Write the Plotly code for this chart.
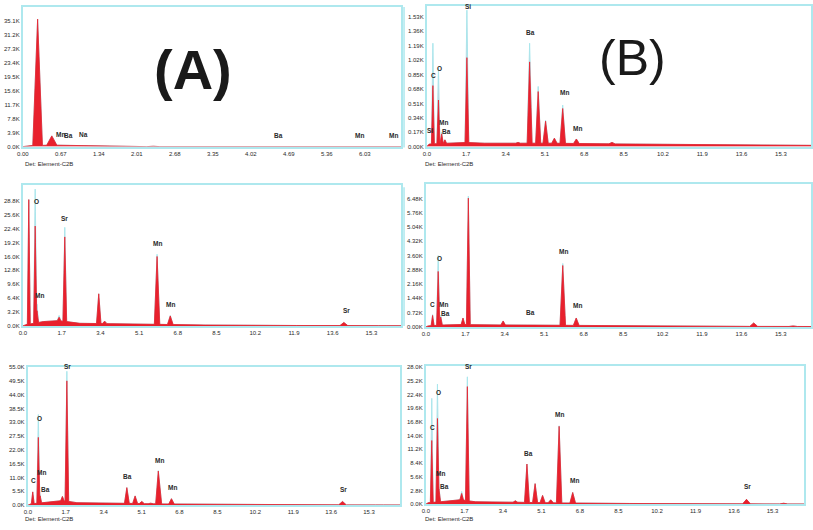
import numpy as np
import plotly.graph_objects as go

# ------------------------------------------------------------------ DATA
# energies in keV, counts in K (thousands)

# Panel A1 (top-left)
a1_peak_e = [0.26, 0.51, 1.05, 2.30]
a1_peak_red = [35.6, 3.0, 0.4, 0.1]
a1_peak_top = [35.6, 3.0, 0.4, 0.1]
a1_bg_e = [0.0, 0.12, 0.60, 1.00, 1.60, 1.75, 6.67]
a1_bg_c = [0.0, 0.30, 0.40, 0.25, 0.15, 0.0, 0.0]
a1_lbl = ["Mn", "Ba", "Na", "Ba", "Mn", "Mn"]
a1_lbl_e = [0.67, 0.80, 1.07, 4.50, 5.94, 6.53]
a1_lbl_c = [1.9, 1.6, 1.8, 1.6, 1.6, 1.6]
a1_xticks = [0.00, 0.67, 1.34, 2.01, 2.68, 3.35, 4.02, 4.69, 5.36, 6.03]
a1_xtick_text = ["0.00", "0.67", "1.34", "2.01", "2.68", "3.35", "4.02", "4.69", "5.36", "6.03"]
a1_yticks = [0.0, 3.9, 7.8, 11.7, 15.6, 19.5, 23.4, 27.3, 31.2, 35.1]
a1_ytick_text = ["0.0K", "3.9K", "7.8K", "11.7K", "15.6K", "19.5K", "23.4K", "27.3K", "31.2K", "35.1K"]

# Panel B1 (top-right)
b1_peak_e = [0.26, 0.50, 0.64, 0.78, 1.73, 3.94, 4.44, 4.81, 5.13, 5.51, 5.87, 6.46, 8.00]
b1_peak_red = [0.72, 0.55, 0.15, 0.08, 1.05, 0.05, 1.00, 0.65, 0.30, 0.10, 0.45, 0.09, 0.05]
b1_peak_top = [1.22, 0.93, 0.17, 0.08, 1.61, 0.05, 1.22, 0.71, 0.31, 0.10, 0.49, 0.09, 0.05]
b1_bg_e = [0.0, 0.1, 0.9, 1.5, 2.5, 3.5, 4.5, 5.5, 7.0, 9.0, 11.0, 13.0, 15.0, 16.6]
b1_bg_c = [0.0, 0.03, 0.04, 0.05, 0.04, 0.04, 0.04, 0.04, 0.035, 0.03, 0.025, 0.02, 0.02, 0.015]
b1_lbl = ["Si", "C", "O", "Mn", "Ba", "Si", "Ba", "Mn", "Mn"]
b1_lbl_e = [0.12, 0.30, 0.56, 0.70, 0.83, 1.76, 4.48, 5.93, 6.52]
b1_lbl_c = [0.12, 0.78, 0.86, 0.22, 0.11, 1.59, 1.28, 0.57, 0.15]
b1_xticks = [0.0, 1.7, 3.4, 5.1, 6.8, 8.5, 10.2, 11.9, 13.6, 15.3]
b1_xtick_text = ["0.0", "1.7", "3.4", "5.1", "6.8", "8.5", "10.2", "11.9", "13.6", "15.3"]
b1_yticks = [0.00, 0.17, 0.34, 0.51, 0.68, 0.85, 1.02, 1.19, 1.36, 1.53]
b1_ytick_text = ["0.00K", "0.17K", "0.34K", "0.51K", "0.68K", "0.85K", "1.02K", "1.19K", "1.36K", "1.53K"]

# Panel A2 (middle-left)
a2_peak_e = [0.26, 0.54, 0.62, 1.59, 1.84, 2.29, 3.33, 3.59, 4.46, 5.89, 6.47, 14.09, 15.80]
a2_peak_red = [29.1, 23.0, 3.5, 2.0, 20.5, 0.6, 7.4, 1.1, 0.5, 16.0, 2.3, 0.8, 0.1]
a2_peak_top = [29.1, 31.5, 5.0, 2.4, 22.7, 0.6, 7.4, 1.1, 0.5, 16.5, 2.4, 0.8, 0.1]
a2_bg_e = [0.0, 0.15, 0.9, 1.5, 2.5, 4.0, 6.0, 8.0, 12.0, 16.6]
a2_bg_c = [0.0, 0.3, 1.0, 1.2, 0.6, 0.5, 0.35, 0.2, 0.1, 0.05]
a2_lbl = ["O", "Mn", "Sr", "Mn", "Mn", "Sr"]
a2_lbl_e = [0.60, 0.72, 1.84, 5.92, 6.50, 14.20]
a2_lbl_c = [27.3, 5.7, 23.5, 17.8, 3.7, 2.3]
a2_xticks = b1_xticks
a2_xtick_text = b1_xtick_text
a2_yticks = [0.0, 3.2, 6.4, 9.6, 12.8, 16.0, 19.2, 22.4, 25.6, 28.8]
a2_ytick_text = ["0.0K", "3.2K", "6.4K", "9.6K", "12.8K", "16.0K", "19.2K", "22.4K", "25.6K", "28.8K"]

# Panel B2 (middle-right)
b2_peak_e = [0.29, 0.53, 0.64, 1.60, 1.83, 3.33, 4.47, 5.90, 6.48, 14.13, 15.83]
b2_peak_red = [0.58, 2.8, 0.5, 0.45, 6.5, 0.3, 0.10, 3.1, 0.45, 0.20, 0.05]
b2_peak_top = [0.62, 3.6, 0.6, 0.45, 6.6, 0.3, 0.10, 3.2, 0.45, 0.20, 0.05]
b2_bg_e = [0.0, 0.1, 0.8, 1.5, 3.0, 6.0, 9.0, 12.0, 16.6]
b2_bg_c = [0.0, 0.05, 0.10, 0.12, 0.10, 0.08, 0.05, 0.03, 0.02]
b2_lbl = ["C", "O", "Mn", "Ba", "Ba", "Mn", "Mn"]
b2_lbl_e = [0.30, 0.58, 0.75, 0.85, 4.50, 5.94, 6.52]
b2_lbl_c = [0.83, 3.2, 0.83, 0.38, 0.45, 3.54, 0.78]
b2_xticks = b1_xticks
b2_xtick_text = b1_xtick_text
b2_yticks = [0.00, 0.72, 1.44, 2.16, 2.88, 3.60, 4.32, 5.04, 5.76, 6.48]
b2_ytick_text = ["0.00K", "0.72K", "1.44K", "2.16K", "2.88K", "3.60K", "4.32K", "5.04K", "5.76K", "6.48K"]

# Panel A3 (bottom-left)
a3_peak_e = [0.22, 0.47, 0.55, 1.55, 1.75, 3.92, 4.44, 4.81, 5.11, 5.51, 5.85, 6.44, 14.11, 15.77]
a3_peak_red = [5.3, 27.0, 3.7, 3.5, 49.5, 0.7, 7.0, 3.7, 1.5, 0.8, 13.6, 2.6, 1.5, 0.2]
a3_peak_top = [5.3, 36.1, 4.2, 3.5, 53.3, 0.7, 7.0, 3.7, 1.5, 0.8, 13.8, 2.6, 1.5, 0.2]
a3_bg_e = [0.0, 0.1, 0.9, 1.5, 2.2, 4.0, 6.0, 9.0, 13.0, 16.7]
a3_bg_c = [0.0, 0.5, 1.2, 1.8, 1.0, 0.8, 0.5, 0.3, 0.15, 0.1]
a3_lbl = ["C", "O", "Mn", "Ba", "Sr", "Ba", "Mn", "Mn", "Sr"]
a3_lbl_e = [0.25, 0.52, 0.63, 0.77, 1.78, 4.48, 5.92, 6.48, 14.17]
a3_lbl_c = [7.7, 32.5, 10.7, 4.0, 53.0, 9.3, 15.6, 4.9, 4.0]
a3_xticks = b1_xticks
a3_xtick_text = b1_xtick_text
a3_yticks = [0.0, 5.5, 11.0, 16.5, 22.0, 27.5, 33.0, 38.5, 44.0, 49.5, 55.0]
a3_ytick_text = ["0.0K", "5.5K", "11.0K", "16.5K", "22.0K", "27.5K", "33.0K", "38.5K", "44.0K", "49.5K", "55.0K"]

# Panel B3 (bottom-right)
b3_peak_e = [0.26, 0.51, 0.58, 1.58, 1.83, 3.95, 4.46, 4.82, 5.15, 5.51, 5.88, 6.48, 14.15, 15.79]
b3_peak_red = [13.0, 17.5, 3.0, 2.2, 24.0, 0.7, 8.2, 4.2, 1.8, 0.9, 15.9, 2.4, 1.0, 0.2]
b3_peak_top = [21.6, 24.5, 3.4, 2.6, 26.0, 0.7, 8.2, 4.2, 1.8, 0.9, 16.0, 2.4, 1.0, 0.2]
b3_bg_e = [0.0, 0.1, 0.9, 1.5, 2.2, 4.0, 6.0, 9.0, 13.0, 16.7]
b3_bg_c = [0.0, 0.3, 0.6, 0.9, 0.5, 0.4, 0.25, 0.15, 0.08, 0.05]
b3_lbl = ["C", "O", "Mn", "Ba", "Sr", "Ba", "Mn", "Mn", "Sr"]
b3_lbl_e = [0.29, 0.56, 0.66, 0.83, 1.86, 4.52, 5.88, 6.54, 14.20]
b3_lbl_c = [14.6, 21.6, 5.2, 2.5, 27.0, 9.2, 17.1, 3.7, 2.5]
b3_xticks = b1_xticks
b3_xtick_text = b1_xtick_text
b3_yticks = [0.0, 2.8, 5.6, 8.4, 11.2, 14.0, 16.8, 19.6, 22.4, 25.2, 28.0]
b3_ytick_text = ["0.0K", "2.8K", "5.6K", "8.4K", "11.2K", "14.0K", "16.8K", "19.6K", "22.4K", "25.2K", "28.0K"]

detector_text = "Det: Element-C2B"

# ------------------------------------------------------------------ STYLE / LAYOUT
W, H = 813, 530
RED = "#e8212d"
PALE = "#e7b3c6"
CYAN = "#a9e6ec"
FRAME = "#aee8ee"
TXT = "#2a2a2a"

panels = [
    dict(pe=a1_peak_e, pr=a1_peak_red, pt=a1_peak_top, be=a1_bg_e, bc=a1_bg_c,
         le=a1_lbl_e, lc=a1_lbl_c, lt=a1_lbl, xt=a1_xticks, xtt=a1_xtick_text,
         yt=a1_yticks, ytt=a1_ytick_text, box=(17, 5, 398, 146), xr=6.67, yr=39.0, hw=0.08),
    dict(pe=b1_peak_e, pr=b1_peak_red, pt=b1_peak_top, be=b1_bg_e, bc=b1_bg_c,
         le=b1_lbl_e, lc=b1_lbl_c, lt=b1_lbl, xt=b1_xticks, xtt=b1_xtick_text,
         yt=b1_yticks, ytt=b1_ytick_text, box=(424, 4, 811, 146), xr=16.6, yr=1.66, hw=0.06),
    dict(pe=a2_peak_e, pr=a2_peak_red, pt=a2_peak_top, be=a2_bg_e, bc=a2_bg_c,
         le=a2_lbl_e, lc=a2_lbl_c, lt=a2_lbl, xt=a2_xticks, xtt=a2_xtick_text,
         yt=a2_yticks, ytt=a2_ytick_text, box=(17, 185, 398, 327), xr=16.6, yr=32.4, hw=0.06),
    dict(pe=b2_peak_e, pr=b2_peak_red, pt=b2_peak_top, be=b2_bg_e, bc=b2_bg_c,
         le=b2_lbl_e, lc=b2_lbl_c, lt=b2_lbl, xt=b2_xticks, xtt=b2_xtick_text,
         yt=b2_yticks, ytt=b2_ytick_text, box=(423, 184, 811, 328), xr=16.6, yr=7.2, hw=0.06),
    dict(pe=a3_peak_e, pr=a3_peak_red, pt=a3_peak_top, be=a3_bg_e, bc=a3_bg_c,
         le=a3_lbl_e, lc=a3_lbl_c, lt=a3_lbl, xt=a3_xticks, xtt=a3_xtick_text,
         yt=a3_yticks, ytt=a3_ytick_text, box=(22, 368, 397, 508), xr=16.69, yr=55.2, hw=0.06),
    dict(pe=b3_peak_e, pr=b3_peak_red, pt=b3_peak_top, be=b3_bg_e, bc=b3_bg_c,
         le=b3_lbl_e, lc=b3_lbl_c, lt=b3_lbl, xt=b3_xticks, xtt=b3_xtick_text,
         yt=b3_yticks, ytt=b3_ytick_text, box=(423, 367, 804, 507), xr=16.69, yr=28.3, hw=0.06),
]


def build_spectrum(pe, ph, be, bc, hw0):
    """Piecewise-linear spectrum: background polyline plus triangular peaks."""
    widths = [hw0 * np.sqrt(1 + e / 2.0) for e in pe]
    xs = set(be)
    for e, w in zip(pe, widths):
        xs.update([e - w, e, e + w])
    xs = np.array(sorted(x for x in xs if be[0] <= x <= be[-1]))
    y = np.interp(xs, be, bc)
    for e, h, w in zip(pe, ph, widths):
        base = float(np.interp(e, be, bc))
        d = np.abs(xs - e)
        tri = np.where(d <= w, base + (h - base) * (1 - d / w), 0.0)
        y = np.maximum(y, tri)
    return xs, y


fig = go.Figure()
layout = dict(width=W, height=H, autosize=False, margin=dict(l=0, r=0, t=0, b=0),
              paper_bgcolor="white", plot_bgcolor="white", showlegend=False)
annotations = []
tickfont = dict(family="Liberation Sans, Arial, sans-serif", size=6, color=TXT)

for i, p in enumerate(panels, start=1):
    xa = "x" if i == 1 else f"x{i}"
    ya = "y" if i == 1 else f"y{i}"
    L, T, R, B = p["box"]
    xs_t, ys_t = build_spectrum(p["pe"], p["pt"], p["be"], p["bc"], p["hw"])
    xs_r, ys_r = build_spectrum(p["pe"], p["pr"], p["be"], p["bc"], p["hw"])
    fig.add_trace(go.Scatter(x=xs_t, y=ys_t, mode="lines", fill="tozeroy",
                             fillcolor=PALE, line=dict(color=CYAN, width=1),
                             xaxis=xa, yaxis=ya, hoverinfo="skip"))
    fig.add_trace(go.Scatter(x=xs_r, y=ys_r, mode="lines", fill="tozeroy",
                             fillcolor=RED, line=dict(color=RED, width=0.8),
                             xaxis=xa, yaxis=ya, hoverinfo="skip"))
    layout["xaxis" if i == 1 else f"xaxis{i}"] = dict(
        domain=[L / W, R / W], range=[0, p["xr"]], anchor=ya,
        tickvals=p["xt"], ticktext=p["xtt"], ticks="", tickfont=tickfont,
        showgrid=False, zeroline=False, showline=True, linecolor=FRAME,
        linewidth=2, mirror=True, fixedrange=True)
    layout["yaxis" if i == 1 else f"yaxis{i}"] = dict(
        domain=[1 - B / H, 1 - T / H], range=[0, p["yr"]], anchor=xa,
        tickvals=p["yt"], ticktext=p["ytt"], ticks="", tickfont=tickfont,
        showgrid=False, zeroline=False, showline=True, linecolor=FRAME,
        linewidth=2, mirror=True, fixedrange=True)
    for t, e, c in zip(p["lt"], p["le"], p["lc"]):
        annotations.append(dict(x=e, y=c, xref=xa, yref=ya, text=f"<b>{t}</b>",
                                showarrow=False, yanchor="bottom", xanchor="center",
                                font=dict(family="Liberation Sans, Arial", size=6.5, color=TXT)))

# detector captions
for (px, py) in [(17, 164), (420, 164), (17, 522), (420, 522)]:
    annotations.append(dict(x=px / W, y=1 - py / H, xref="paper", yref="paper",
                            text=detector_text, showarrow=False, xanchor="left",
                            yanchor="middle", font=dict(family="Liberation Sans, Arial",
                                                        size=6, color=TXT)))

# panel letters
annotations.append(dict(x=188 / W, y=1 - 68 / H, xref="paper", yref="paper",
                        text="<b>(A)</b>", showarrow=False, xanchor="center", yanchor="middle",
                        font=dict(family="Liberation Sans, Arial", size=56, color="#1a1a1a")))
annotations.append(dict(x=631 / W, y=1 - 57 / H, xref="paper", yref="paper",
                        text="(B)", showarrow=False, xanchor="center", yanchor="middle",
                        font=dict(family="Liberation Sans, Arial", size=50, color="#1a1a1a")))

layout["annotations"] = annotations
layout["shapes"] = [
    dict(type="line", xref="paper", yref="paper", x0=401 / W, x1=401 / W,
         y0=1 - 147 / H, y1=1 - 5 / H, line=dict(color=FRAME, width=1.5)),
    dict(type="line", xref="paper", yref="paper", x0=401 / W, x1=401 / W,
         y0=1 - 327 / H, y1=1 - 187 / H, line=dict(color=FRAME, width=1.5)),
]
fig.update_layout(**layout)
fig.write_html("out.html", config={"displayModeBar": False},
               post_script="document.body.style.margin='0px';")
